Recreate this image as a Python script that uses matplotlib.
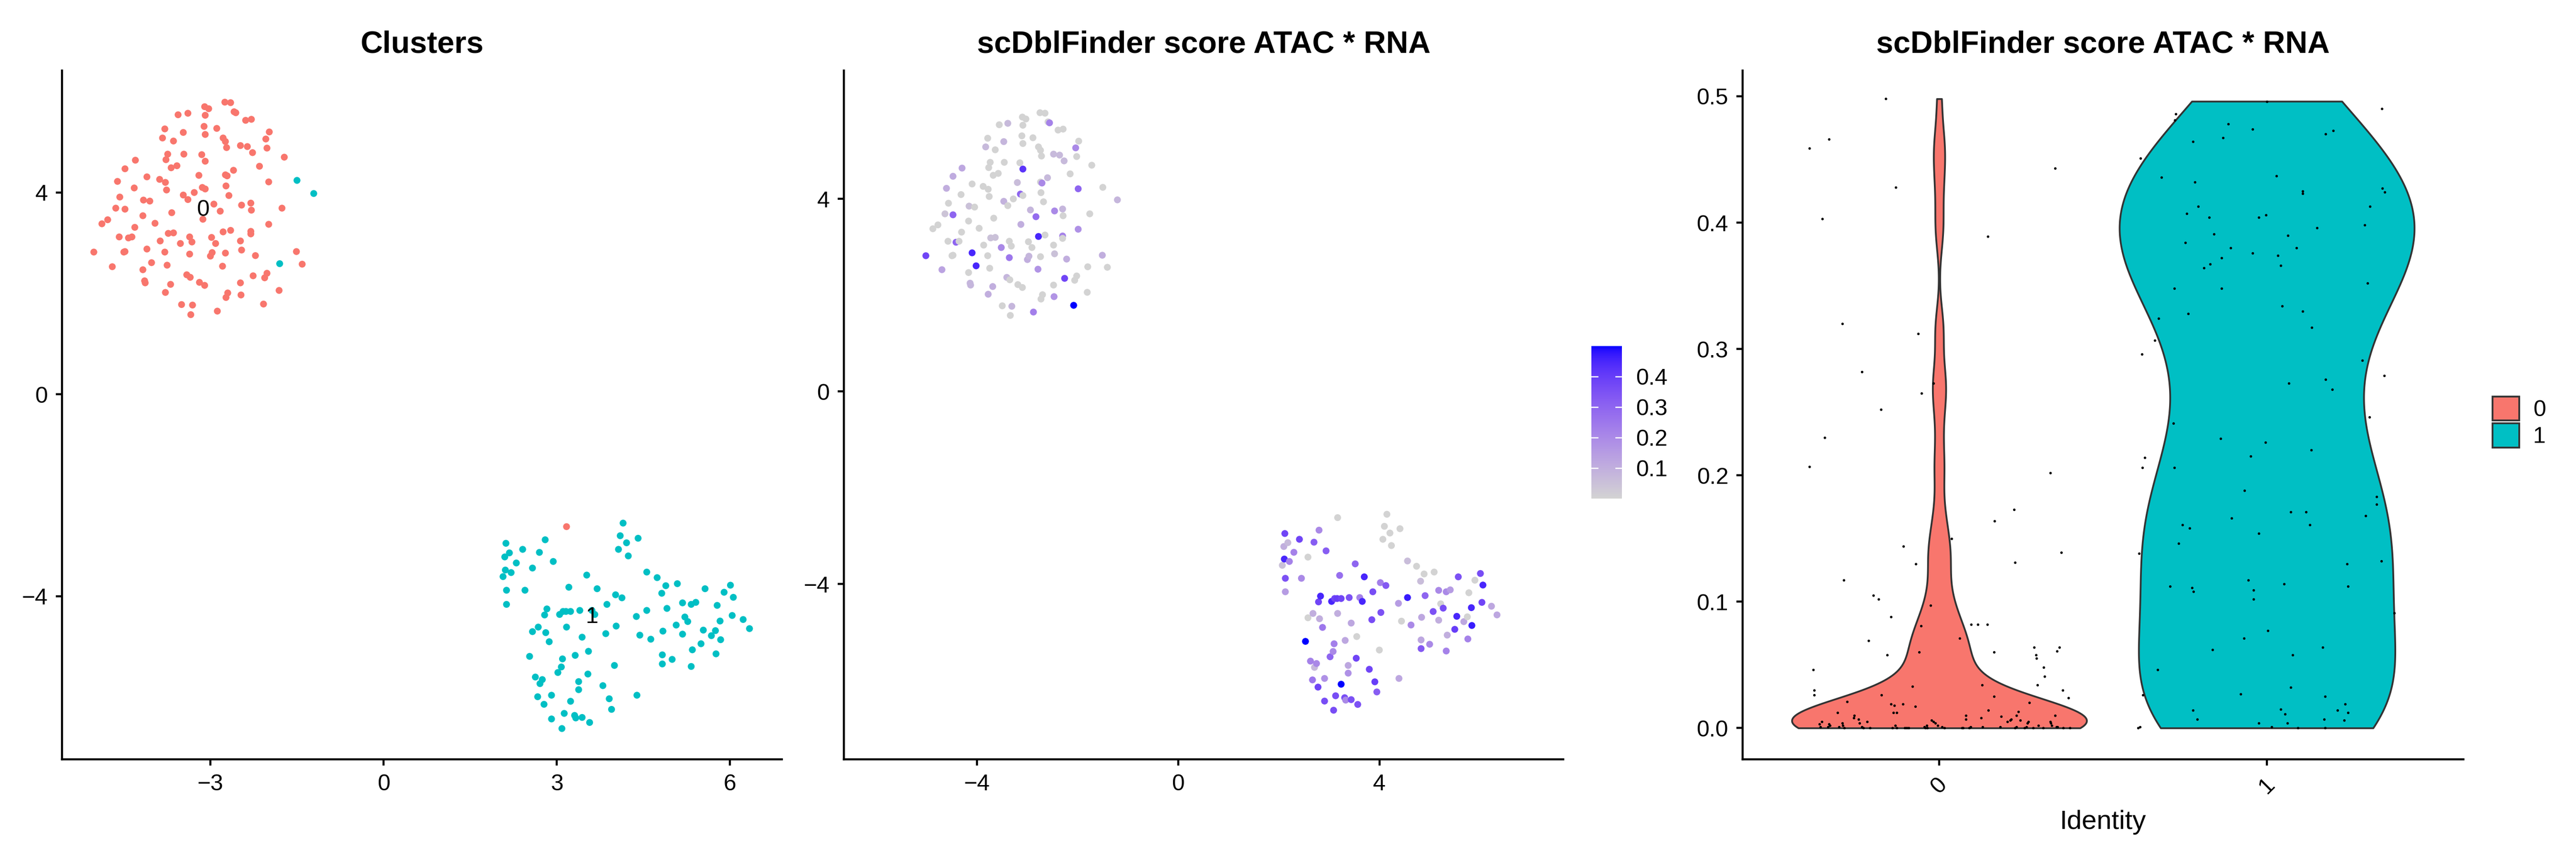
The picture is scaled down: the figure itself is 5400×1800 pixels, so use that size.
import numpy as np
import matplotlib
matplotlib.use("Agg")
import matplotlib.pyplot as plt
from matplotlib.colors import ListedColormap, Normalize
from matplotlib.patches import Patch

plt.rcParams["font.family"] = ["Liberation Sans", "DejaVu Sans"]

# ---------- data ----------
# UMAP embedding, one row per cell: x, y, cluster, scDblFinder score
umap_x = [
    -5.02, -4.88, -4.78, -4.70, -4.64, -4.61, -4.58, -4.57, -4.50, -4.48, -4.48, -4.48, -4.42, -4.36,
    -4.32, -4.31, -4.30, -4.17, -4.16, -4.17, -4.14, -4.13, -4.10, -4.10, -4.05, -4.02, -3.96, -3.88,
    -3.87, -3.83, -3.79, -3.79, -3.78, -3.77, -3.76, -3.75, -3.74, -3.78, -3.73, -3.69, -3.68, -3.67,
    -3.64, -3.64, -3.58, -3.56, -3.52, -3.47, -3.47, -3.46, -3.50, -3.41, -3.39, -3.39, -3.36, -3.36,
    -3.35, -3.34, -3.31, -3.32, -3.28, -3.20, -3.19, -3.13, -3.15, -3.14, -3.11, -3.10, -3.09, -3.09,
    -3.09, -3.09, -3.10, -3.03, -3.00, -2.98, -2.97, -2.94, -2.91, -2.89, -2.88, -2.83, -2.79, -2.78,
    -2.78, -2.75, -2.74, -2.74, -2.73, -2.73, -2.74, -2.72, -2.70, -2.71, -2.68, -2.65, -2.65, -2.60,
    -2.59, -2.56, -2.48, -2.48, -2.48, -2.47, -2.46, -2.46, -2.39, -2.36, -2.30, -2.30, -2.30, -2.29,
    -2.29, -2.27, -2.26, -2.22, -2.15, -2.06, -2.08, -2.04, -2.02, -2.02, -1.99, -1.98, -1.99, -1.81,
    -1.76, -1.72, -1.51, -1.41, 3.17,
    -1.50, -1.21, -1.80,
    2.07, 2.10, 2.11, 2.12, 2.13, 2.13, 2.18, 2.21, 2.30, 2.41, 2.45, 2.53, 2.58, 2.58, 2.63, 2.67,
    2.68, 2.70, 2.71, 2.75, 2.78, 2.79, 2.80, 2.81, 2.83, 2.87, 2.91, 2.91, 2.94, 3.02, 3.05, 3.08,
    3.09, 3.10, 3.11, 3.13, 3.16, 3.17, 3.21, 3.24, 3.24, 3.31, 3.32, 3.33, 3.38, 3.38, 3.40, 3.44,
    3.44, 3.52, 3.54, 3.55, 3.57, 3.61, 3.66, 3.70, 3.80, 3.85, 3.87, 3.91, 3.95, 4.00, 4.02, 4.03,
    4.07, 4.10, 4.13, 4.15, 4.21, 4.24, 4.38, 4.39, 4.41, 4.44, 4.56, 4.56, 4.63, 4.74, 4.82, 4.83,
    4.83, 4.84, 4.89, 4.91, 5.00, 5.07, 5.09, 5.18, 5.18, 5.22, 5.27, 5.33, 5.33, 5.35, 5.41, 5.50,
    5.54, 5.57, 5.68, 5.75, 5.76, 5.78, 5.83, 5.84, 5.90, 6.01, 6.04, 6.06, 6.23, 6.34,
]
umap_y = [
    2.82, 3.38, 3.46, 2.53, 3.69, 4.22, 3.12, 3.91, 2.82, 3.67, 2.83, 4.47, 3.10, 3.12,
    4.09, 3.31, 4.64, 2.47, 3.85, 3.54, 2.25, 2.21, 4.31, 2.88, 3.83, 2.61, 3.39, 4.26,
    3.04, 5.08, 2.82, 5.26, 4.20, 4.65, 4.05, 2.56, 4.76, 2.02, 3.19, 2.18, 4.49, 3.60,
    3.20, 5.02, 4.53, 5.54, 2.99, 5.19, 3.95, 4.76, 1.78, 2.37, 5.57, 3.86, 3.12, 2.78,
    2.32, 1.58, 1.77, 3.02, 4.00, 4.34, 2.22, 3.47, 4.75, 4.10, 5.31, 5.70, 5.53, 4.07,
    5.15, 4.62, 2.16, 5.66, 2.74, 3.11, 2.81, 3.77, 2.99, 5.27, 1.65, 3.63, 2.54, 3.22,
    5.08, 5.79, 5.01, 4.35, 4.13, 1.92, 2.80, 4.89, 2.01, 4.33, 3.94, 5.78, 3.25, 4.44,
    5.60, 5.58, 4.93, 3.04, 2.21, 1.97, 2.86, 3.75, 5.43, 4.91, 3.79, 3.23, 3.18, 3.65,
    5.45, 4.79, 2.35, 2.75, 4.52, 2.31, 1.79, 5.06, 4.88, 2.40, 3.37, 5.20, 4.21, 2.06,
    3.69, 4.70, 2.83, 2.58, -2.62,
    4.24, 3.98, 2.59,
    -3.61, -3.22, -3.48, -2.95, -3.88, -4.16, -3.14, -3.53, -3.34, -3.07, -3.88, -5.19, -3.44, -4.70, -5.60, -5.99,
    -4.61, -3.13, -5.73, -5.65, -6.14, -4.37, -2.88, -4.72, -4.25, -4.90, -6.43, -5.96, -3.31, -5.51, -4.36, -5.40,
    -6.62, -5.24, -4.30, -6.32, -4.30, -4.61, -3.82, -4.30, -6.08, -6.36, -5.17, -6.41, -5.85, -5.69, -4.28, -4.81,
    -6.40, -3.58, -5.54, -5.09, -6.50, -4.28, -4.36, -3.85, -5.77, -4.74, -4.16, -6.03, -6.24, -5.37, -3.97, -4.59,
    -3.07, -2.80, -4.03, -2.55, -2.94, -3.20, -4.40, -5.96, -2.85, -4.77, -3.52, -4.28, -4.85, -3.63, -3.94, -5.16,
    -5.34, -4.69, -3.79, -4.24, -5.25, -4.57, -3.75, -4.13, -4.75, -4.41, -4.50, -4.16, -5.39, -5.06, -4.12, -4.94,
    -4.67, -3.85, -4.78, -4.68, -5.14, -4.18, -4.49, -4.86, -3.92, -3.78, -4.38, -4.02, -4.46, -4.64,
]
# 131 cells in cluster 0 (incl. one sitting in the lower blob), 113 in cluster 1
cluster = [0] * 131 + [1] * 113
score = [
    0.38, 0.00, 0.00, 0.13, 0.04, 0.10, 0.00, 0.00, 0.00, 0.30, 0.00, 0.11, 0.30, 0.00,
    0.00, 0.00, 0.12, 0.00, 0.05, 0.00, 0.08, 0.08, 0.00, 0.45, 0.00, 0.45, 0.00, 0.00,
    0.00, 0.07, 0.00, 0.00, 0.00, 0.00, 0.00, 0.00, 0.00, 0.10, 0.05, 0.10, 0.00, 0.00,
    0.05, 0.00, 0.00, 0.00, 0.20, 0.08, 0.09, 0.00, 0.00, 0.08, 0.07, 0.00, 0.00, 0.25,
    0.00, 0.00, 0.08, 0.00, 0.00, 0.06, 0.00, 0.10, 0.00, 0.30, 0.00, 0.00, 0.00, 0.00,
    0.00, 0.42, 0.00, 0.00, 0.10, 0.00, 0.08, 0.08, 0.00, 0.00, 0.23, 0.28, 0.17, 0.45,
    0.00, 0.00, 0.00, 0.00, 0.00, 0.00, 0.00, 0.00, 0.00, 0.20, 0.00, 0.00, 0.00, 0.07,
    0.00, 0.22, 0.07, 0.00, 0.00, 0.17, 0.05, 0.20, 0.00, 0.07, 0.08, 0.22, 0.00, 0.00,
    0.00, 0.07, 0.38, 0.10, 0.00, 0.00, 0.50, 0.20, 0.00, 0.00, 0.18, 0.00, 0.30, 0.00,
    0.00, 0.00, 0.10, 0.00, 0.00,
    0.00, 0.08, 0.00,
    0.05, 0.10, 0.45, 0.38, 0.35, 0.15, 0.07, 0.22, 0.22, 0.38, 0.20, 0.50, 0.00, 0.00, 0.22, 0.25,
    0.10, 0.32, 0.07, 0.20, 0.38, 0.38, 0.20, 0.10, 0.45, 0.25, 0.36, 0.18, 0.32, 0.30, 0.45, 0.20,
    0.36, 0.23, 0.38, 0.36, 0.40, 0.10, 0.27, 0.38, 0.50, 0.36, 0.12, 0.20, 0.18, 0.12, 0.35, 0.12,
    0.35, 0.30, 0.38, 0.00, 0.35, 0.22, 0.45, 0.45, 0.38, 0.36, 0.36, 0.40, 0.32, 0.00, 0.23, 0.35,
    0.00, 0.00, 0.33, 0.00, 0.00, 0.00, 0.15, 0.12, 0.00, 0.00, 0.06, 0.47, 0.20, 0.00, 0.06, 0.12,
    0.33, 0.12, 0.00, 0.30, 0.20, 0.35, 0.00, 0.20, 0.10, 0.00, 0.36, 0.20, 0.22, 0.10, 0.15, 0.40,
    0.45, 0.35, 0.12, 0.00, 0.22, 0.00, 0.45, 0.47, 0.00, 0.36, 0.38, 0.45, 0.12, 0.12,
]

# violin panel: jittered points (offset from group centre, score)
vln0_dx = [
    -0.384, -0.382, -0.382, -0.082, 0.131, 0.297, 0.318, 0.322, 0.299, 0.377, 0.395, -0.281, -0.177,
    -0.148, -0.137, -0.111, -0.073, 0.167, 0.275, 0.150, -0.311, -0.140, -0.130, -0.259, -0.261, -0.246,
    -0.244, -0.220, -0.359, -0.366, -0.363, -0.336, -0.333, -0.340, -0.296, -0.294, -0.306, -0.290,
    -0.236, -0.232, -0.211, -0.143, -0.134, -0.130, -0.105, -0.099, -0.093, -0.046, -0.043, -0.038,
    -0.036, -0.023, -0.018, -0.012, -0.004, 0.009, 0.016, 0.070, 0.073, 0.092, 0.096, 0.082, 0.082,
    0.128, 0.132, 0.186, 0.189, 0.208, 0.217, 0.219, 0.236, 0.242, 0.247, 0.231, 0.236, 0.261, 0.266,
    0.269, 0.272, 0.286, 0.302, 0.317, 0.339, 0.341, 0.344, 0.354, 0.358, 0.361, 0.379, 0.398,
    -0.163, -0.336, -0.397, -0.133, -0.357, 0.148, 0.353, -0.296, -0.064, -0.236, -0.017, -0.054,
    -0.178, -0.349, -0.397, 0.339, 0.228, 0.169, 0.037, -0.110, 0.373, -0.071, 0.231, -0.291, -0.201,
    -0.185, -0.027, -0.147, -0.056, 0.097, 0.117, 0.147, -0.216, 0.062, -0.159, -0.062, 0.167, 0.289,
    0.295, 0.366, 0.360,
]
vln0_y = [
    0.046, 0.030, 0.026, 0.033, 0.034, 0.055, 0.048, 0.041, 0.034, 0.030, 0.024, 0.021, 0.026,
    0.019, 0.018, 0.019, 0.017, 0.025, 0.020, 0.014, 0.012, 0.012, 0.012, 0.010, 0.008, 0.007,
    0.004, 0.005, 0.005, 0.003, 0.001, 0.003, 0.002, 0.001, 0.004, 0.002, 0.001, 0.000,
    0.001, 0.000, 0.000, 0.000, 0.002, 0.000, 0.000, 0.000, 0.000, 0.001, 0.000, 0.002,
    0.000, 0.006, 0.005, 0.004, 0.002, 0.001, 0.000, 0.000, 0.000, 0.000, 0.001, 0.010, 0.007,
    0.008, 0.001, 0.001, 0.009, 0.005, 0.006, 0.007, 0.010, 0.013, 0.006, 0.000, 0.001, 0.000, 0.001,
    0.004, 0.005, 0.000, 0.002, 0.000, 0.005, 0.004, 0.002, 0.010, 0.001, 0.001, 0.000, 0.000,
    0.498, 0.466, 0.459, 0.428, 0.403, 0.389, 0.443, 0.320, 0.312, 0.282, 0.273, 0.265,
    0.252, 0.230, 0.207, 0.202, 0.173, 0.164, 0.150, 0.144, 0.139, 0.130, 0.131, 0.117, 0.105,
    0.102, 0.097, 0.088, 0.081, 0.082, 0.082, 0.082, 0.069, 0.071, 0.058, 0.060, 0.060, 0.064,
    0.058, 0.064, 0.061,
]
vln1_dx = [
    0.000, -0.278, -0.281, 0.351, -0.118, -0.043, -0.134, -0.225, 0.179, 0.202, -0.386, -0.322, -0.220,
    0.029, 0.109, 0.110, 0.353, 0.360, 0.314, -0.210, -0.244, -0.176, -0.024, -0.003, 0.299, 0.153,
    -0.161, 0.064, -0.249, -0.111, 0.091, -0.043, 0.033, -0.138, -0.173, -0.192, 0.042, 0.307, -0.283,
    -0.138, 0.047, 0.110, -0.240, -0.330, 0.137, -0.342, -0.381, 0.291, 0.358, 0.067, 0.179, 0.200,
    0.313,
    -0.286, -0.141, -0.005, 0.135, -0.050, -0.372, -0.380, -0.282, -0.068, 0.335, 0.335, 0.073, 0.119,
    0.302, -0.108, 0.131, -0.257, -0.236, -0.025, -0.270, -0.390, 0.245, 0.349, -0.296, -0.056, 0.052,
    0.247, -0.229, -0.224, -0.040, -0.040, 0.389, 0.003, -0.070, -0.166, 0.171, 0.078, -0.334, -0.378,
    -0.080, 0.073, 0.178, 0.239, 0.215, 0.248, 0.236, 0.175, -0.226, -0.212, 0.043, 0.056, 0.062,
    -0.024, 0.015, 0.094, 0.178, -0.393, -0.387,
]
vln1_y = [
    0.496, 0.486, 0.481, 0.490, 0.478, 0.474, 0.467, 0.464, 0.470, 0.473, 0.451, 0.436, 0.432,
    0.437, 0.425, 0.423, 0.427, 0.424, 0.413, 0.413, 0.407, 0.404, 0.404, 0.406, 0.398, 0.396,
    0.391, 0.390, 0.384, 0.380, 0.380, 0.376, 0.374, 0.372, 0.367, 0.364, 0.366, 0.352, 0.348,
    0.348, 0.334, 0.330, 0.328, 0.324, 0.317, 0.307, 0.296, 0.291, 0.279, 0.273, 0.276, 0.268,
    0.246,
    0.241, 0.229, 0.226, 0.220, 0.215, 0.214, 0.206, 0.206, 0.188, 0.183, 0.177, 0.171, 0.171,
    0.168, 0.166, 0.161, 0.161, 0.158, 0.154, 0.146, 0.138, 0.130, 0.132, 0.112, 0.117, 0.114,
    0.112, 0.111, 0.108, 0.109, 0.102, 0.091, 0.077, 0.071, 0.062, 0.064, 0.058, 0.046, 0.026,
    0.027, 0.032, 0.025, 0.019, 0.014, 0.012, 0.006, 0.007, 0.014, 0.007, 0.015, 0.011, 0.004,
    0.004, 0.001, 0.000, 0.000, 0.000, 0.001,
]

ident_labels = ["0", "1"]
hue = ["#F8766D", "#00BFC4"]
title_umap = "Clusters"
title_score = "scDblFinder score ATAC * RNA"


# ---------- helpers ----------
def srgb_to_lab(rgb):
    rgb = np.asarray(rgb, float)
    lin = np.where(rgb <= 0.04045, rgb / 12.92, ((rgb + 0.055) / 1.055) ** 2.4)
    M = np.array([[0.4124, 0.3576, 0.1805], [0.2126, 0.7152, 0.0722], [0.0193, 0.1192, 0.9505]])
    xyz = M @ lin / np.array([0.95047, 1.0, 1.08883])
    f = np.where(xyz > 0.008856, np.cbrt(xyz), 7.787 * xyz + 16 / 116)
    return np.array([116 * f[1] - 16, 500 * (f[0] - f[1]), 200 * (f[1] - f[2])])


def lab_to_srgb(lab):
    L, a, b = lab
    fy = (L + 16) / 116
    fx = fy + a / 500
    fz = fy - b / 200
    f = np.array([fx, fy, fz])
    xyz = np.where(f ** 3 > 0.008856, f ** 3, (f - 16 / 116) / 7.787) * np.array([0.95047, 1.0, 1.08883])
    Minv = np.linalg.inv(np.array([[0.4124, 0.3576, 0.1805], [0.2126, 0.7152, 0.0722], [0.0193, 0.1192, 0.9505]]))
    lin = np.clip(Minv @ xyz, 0, 1)
    return np.where(lin <= 0.0031308, 12.92 * lin, 1.055 * lin ** (1 / 2.4) - 0.055).clip(0, 1)


def lab_gradient(c0, c1, n=256):
    l0, l1 = srgb_to_lab(c0), srgb_to_lab(c1)
    return ListedColormap([lab_to_srgb(l0 + (l1 - l0) * t) for t in np.linspace(0, 1, n)])


def nrd0(x):
    x = np.asarray(x, float)
    hi = x.std(ddof=1)
    q75, q25 = np.percentile(x, [75, 25])
    lo = min(hi, (q75 - q25) / 1.34) or hi
    return 0.9 * lo * len(x) ** (-0.2)


def style_axes(ax):
    for side in ("top", "right"):
        ax.spines[side].set_visible(False)
    for side in ("left", "bottom"):
        ax.spines[side].set_linewidth(1.05)
    ax.tick_params(length=3.2, width=1.05, labelsize=11.5, pad=4, colors="black")


umap_x = np.array(umap_x)
umap_y = np.array(umap_y)
cluster = np.array(cluster)
score = np.array(score)

fig = plt.figure(figsize=(18, 6), dpi=300)

# ---------- panel 1: clusters ----------
ax1 = fig.add_axes([0.0241, 0.115, 0.2794, 0.803])
ax1.scatter(umap_x, umap_y, c=[hue[k] for k in cluster], s=12, linewidths=0)
for k in (0, 1):
    m = cluster == k
    ax1.text(np.median(umap_x[m]), np.median(umap_y[m]), ident_labels[k],
             ha="center", va="center", fontsize=11.5)
ax1.set_xlim(-5.57, 6.90)
ax1.set_ylim(-7.23, 6.42)
ax1.set_xticks([-3, 0, 3, 6])
ax1.set_yticks([-4, 0, 4])
ax1.set_title(title_umap, fontsize=15.5, fontweight="bold", pad=9)
style_axes(ax1)

# ---------- panel 2: score on UMAP ----------
cmap = lab_gradient([211 / 255, 211 / 255, 211 / 255], [0, 0, 1])
norm = Normalize(vmin=score.min(), vmax=score.max())
ax2 = fig.add_axes([0.3276, 0.115, 0.2793, 0.803])
sc = ax2.scatter(umap_x, umap_y, c=score, cmap=cmap, norm=norm, s=12, linewidths=0)
ax2.set_xlim(-6.65, 7.66)
ax2.set_ylim(-7.64, 6.67)
ax2.set_xticks([-4, 0, 4])
ax2.set_yticks([-4, 0, 4])
ax2.set_title(title_score, fontsize=15.5, fontweight="bold", pad=9)
style_axes(ax2)

cax = fig.add_axes([0.6178, 0.4189, 0.0118, 0.1778])
cb = fig.colorbar(sc, cax=cax)
cb.outline.set_visible(False)
cb.set_ticks([0.1, 0.2, 0.3, 0.4])
cb.set_ticklabels(["0.1", "0.2", "0.3", "0.4"])
cax.tick_params(length=0, labelsize=11.5, pad=7)
for v in (0.1, 0.2, 0.3, 0.4):
    cax.axhline(v, xmin=0, xmax=0.2, color="white", lw=0.6)
    cax.axhline(v, xmin=0.8, xmax=1, color="white", lw=0.6)

# ---------- panel 3: violin ----------
ax3 = fig.add_axes([0.6765, 0.115, 0.2798, 0.803])
groups = [(vln0_dx, vln0_y), (vln1_dx, vln1_y)]
for pos, (dx, yy) in enumerate(groups):
    yy = np.asarray(yy)
    bw = nrd0(yy)
    grid = np.linspace(yy.min(), yy.max(), 512)
    dens = np.exp(-0.5 * ((grid[:, None] - yy[None, :]) / bw) ** 2).sum(axis=1)
    half = 0.45 * dens / dens.max()
    ax3.fill_betweenx(grid, pos - half, pos + half, facecolor=hue[pos],
                      edgecolor="#333333", linewidth=0.9, zorder=2)
for pos, (dx, yy) in enumerate(groups):
    ax3.scatter(pos + np.asarray(dx), yy, s=1.6, c="black", linewidths=0, zorder=3)
ax3.set_xlim(-0.6, 1.6)
ax3.set_ylim(-0.0248, 0.5205)
ax3.set_xticks([0, 1])
ax3.set_xticklabels(ident_labels, rotation=45, ha="center", va="top")
ax3.set_yticks([0.0, 0.1, 0.2, 0.3, 0.4, 0.5])
ax3.set_yticklabels(["0.0", "0.1", "0.2", "0.3", "0.4", "0.5"])
ax3.set_xlabel("Identity", fontsize=13.5, labelpad=6)
ax3.set_title(title_score, fontsize=15.5, fontweight="bold", pad=9)
style_axes(ax3)

handles = [Patch(facecolor=hue[k], edgecolor="#333333", linewidth=0.9) for k in (0, 1)]
ax3.legend(handles, ident_labels, loc="center left", bbox_to_anchor=(0.9676, 0.508),
           bbox_transform=fig.transFigure, frameon=False, fontsize=11.5,
           handlelength=1.17, handleheight=1.25, handletextpad=0.6,
           labelspacing=0.1, borderpad=0, borderaxespad=0)

fig.savefig("out.png", dpi=300, facecolor="white")
